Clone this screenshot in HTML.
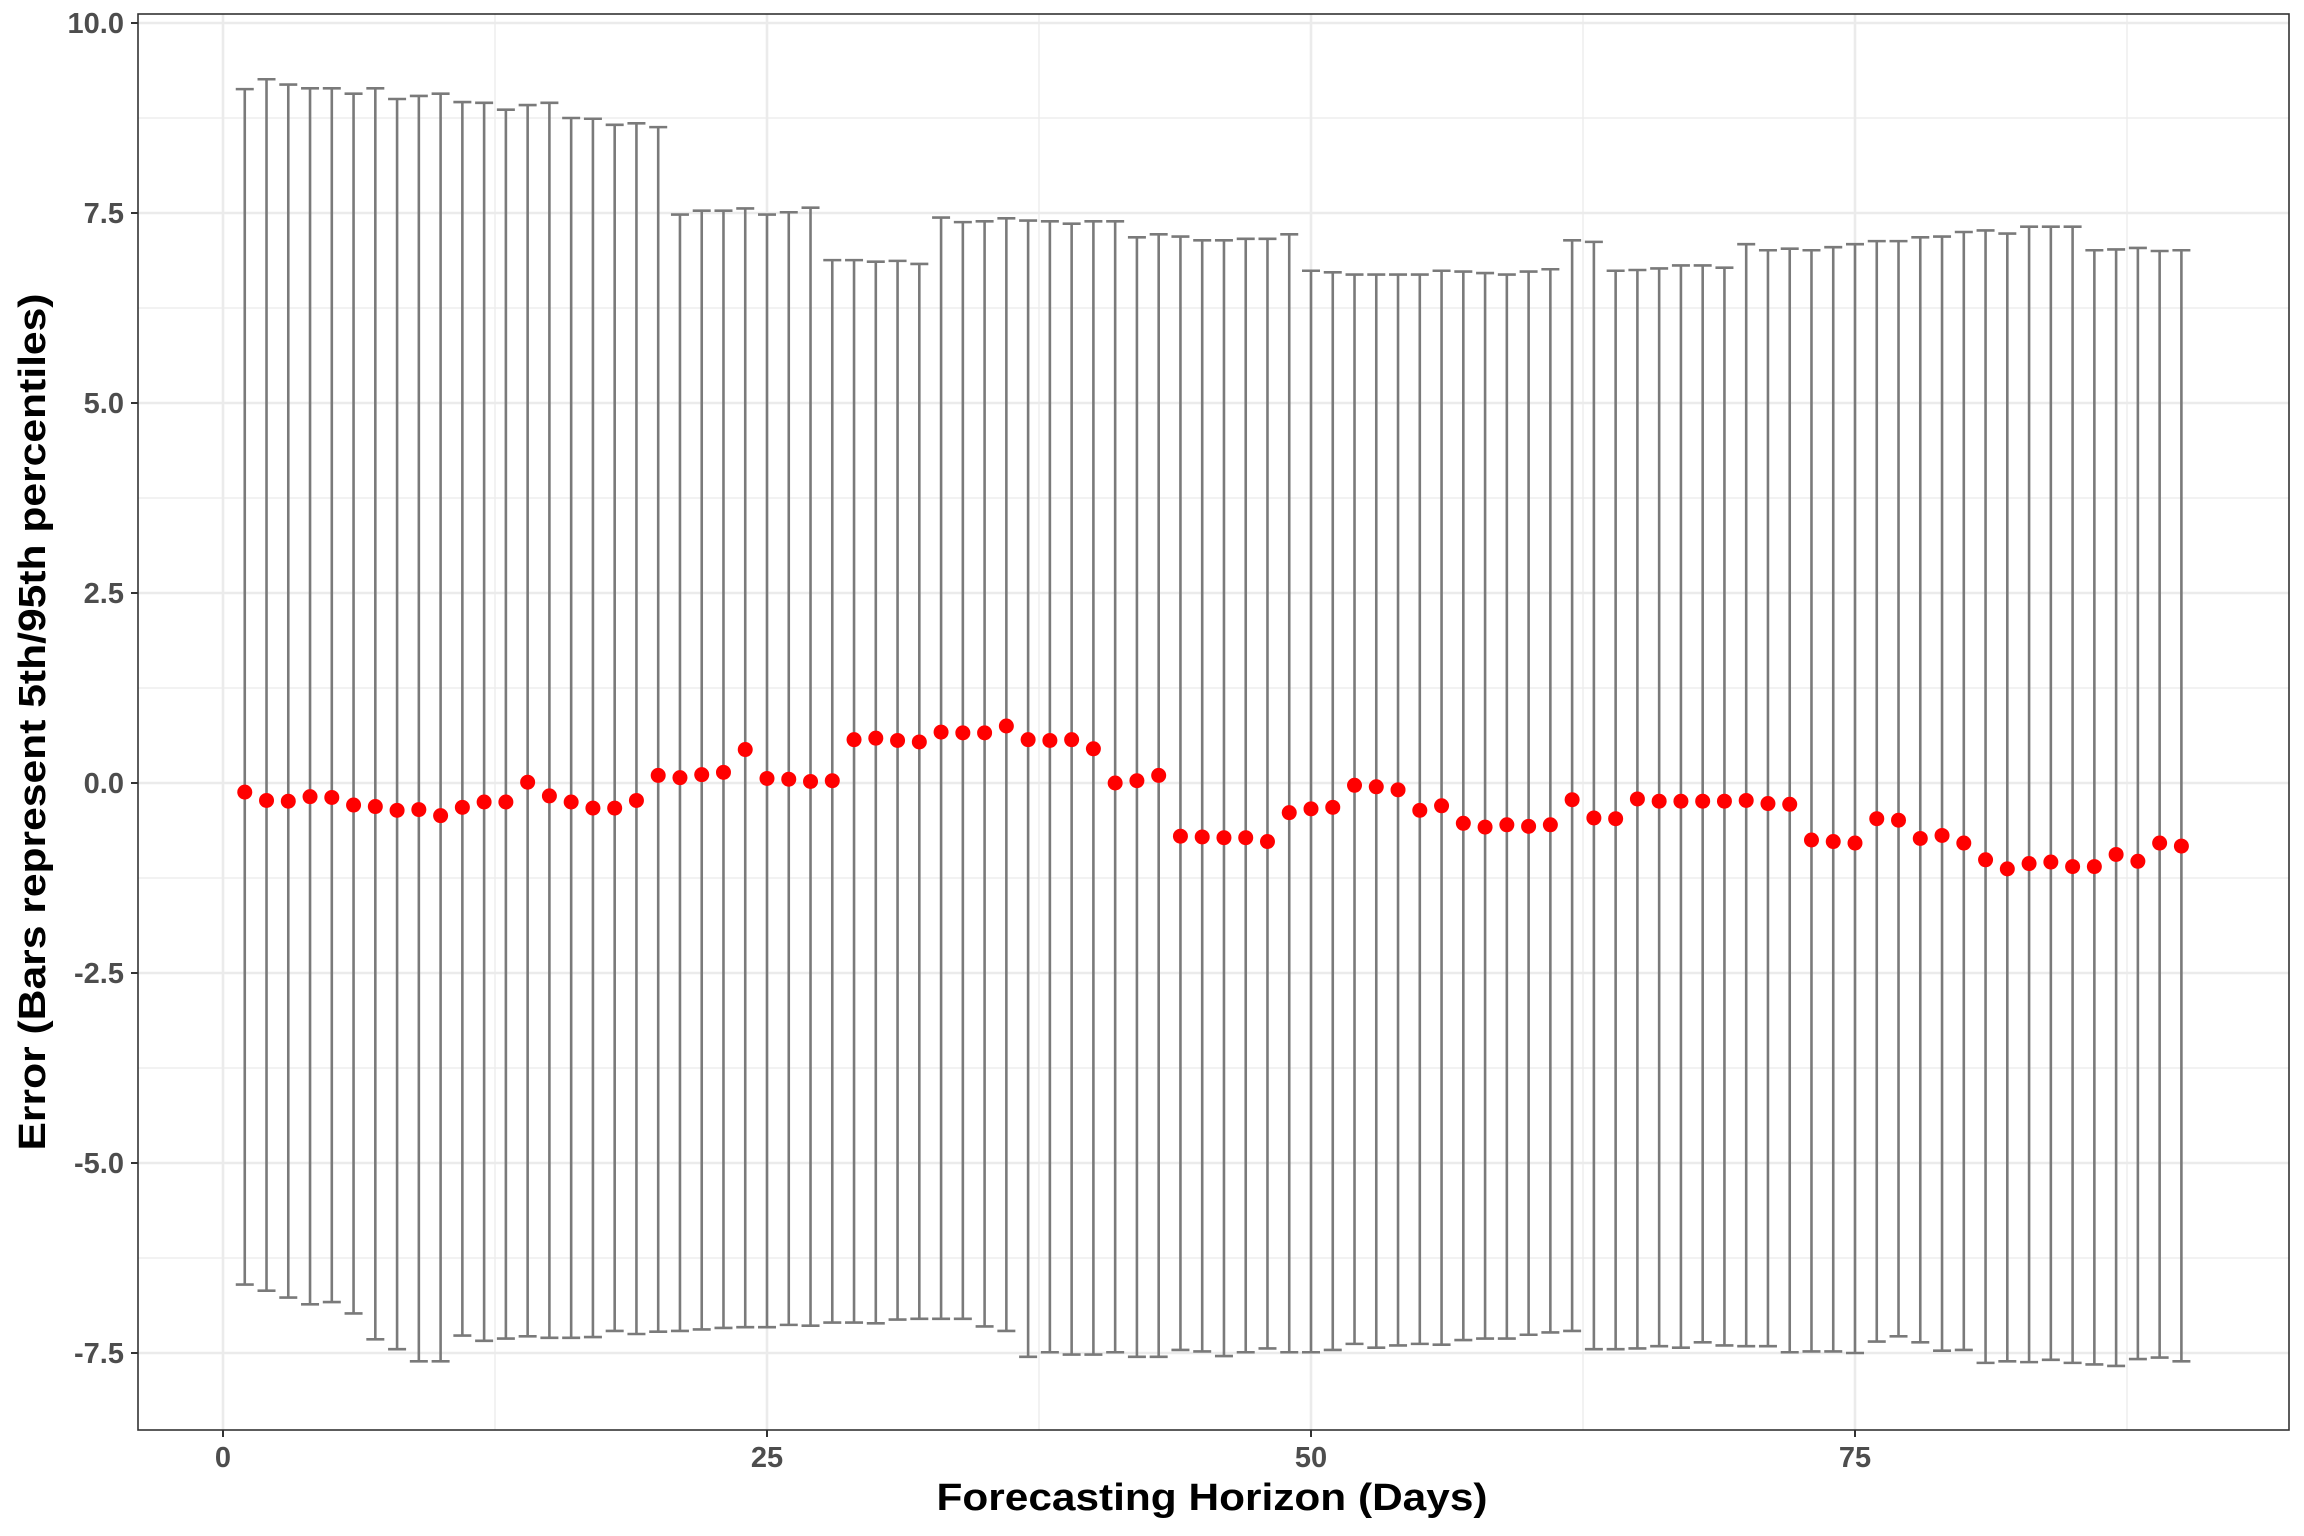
<!DOCTYPE html>
<html><head><meta charset="utf-8"><style>
html,body{margin:0;padding:0;background:#fff;}
svg{display:block;}
</style></head>
<body>
<svg id="chart" width="2304" height="1536" viewBox="0 0 2304 1536" xmlns="http://www.w3.org/2000/svg">
<rect x="0" y="0" width="2304" height="1536" fill="#ffffff"/>
<g id="grid"></g>
<g id="marks"></g>
<rect x="138" y="14" width="2151" height="1416" fill="none" stroke="#333333" stroke-width="1.6"/>
<g id="axes"></g>
<text x="1212" y="1510" text-anchor="middle" font-family="Liberation Sans, sans-serif" font-weight="bold" font-size="38" fill="#000" textLength="551" lengthAdjust="spacingAndGlyphs">Forecasting Horizon (Days)</text>
<text transform="translate(45,722) rotate(-90)" text-anchor="middle" font-family="Liberation Sans, sans-serif" font-weight="bold" font-size="38" fill="#000" textLength="857" lengthAdjust="spacingAndGlyphs">Error (Bars represent 5th/95th percentiles)</text>
</svg>
<script>
const days = Array.from({length:90},(_,i)=>i+1);
const meanErr = [-0.12,-0.23,-0.24,-0.18,-0.19,-0.29,-0.31,-0.36,-0.35,-0.43,
-0.32,-0.25,-0.25,0.01,-0.17,-0.25,-0.33,-0.33,-0.23,0.10,
0.07,0.11,0.14,0.44,0.06,0.05,0.02,0.03,0.57,0.59,
0.56,0.54,0.67,0.66,0.66,0.75,0.57,0.56,0.57,0.45,
0.00,0.03,0.10,-0.70,-0.71,-0.72,-0.72,-0.77,-0.39,-0.34,
-0.32,-0.03,-0.05,-0.09,-0.36,-0.30,-0.53,-0.58,-0.55,-0.57,
-0.55,-0.22,-0.46,-0.47,-0.21,-0.24,-0.24,-0.24,-0.24,-0.23,
-0.27,-0.28,-0.75,-0.77,-0.79,-0.47,-0.49,-0.73,-0.69,-0.79,
-1.01,-1.13,-1.06,-1.04,-1.10,-1.10,-0.94,-1.03,-0.79,-0.83];
const upper95 = [9.13,9.26,9.19,9.14,9.14,9.07,9.14,9.00,9.04,9.07,
8.96,8.95,8.86,8.92,8.95,8.75,8.74,8.66,8.68,8.63,
7.48,7.53,7.53,7.56,7.48,7.51,7.57,6.88,6.88,6.86,
6.87,6.83,7.44,7.38,7.39,7.43,7.40,7.39,7.36,7.39,
7.39,7.18,7.22,7.19,7.14,7.14,7.16,7.16,7.22,6.74,
6.72,6.69,6.69,6.69,6.69,6.74,6.73,6.71,6.69,6.73,
6.76,7.14,7.12,6.74,6.75,6.77,6.81,6.81,6.78,7.09,
7.01,7.03,7.01,7.05,7.09,7.13,7.13,7.18,7.19,7.25,
7.27,7.23,7.32,7.32,7.32,7.01,7.02,7.04,7.00,7.01];
const lower5 = [-6.60,-6.68,-6.77,-6.86,-6.83,-6.98,-7.32,-7.45,-7.61,-7.61,
-7.27,-7.34,-7.31,-7.28,-7.30,-7.30,-7.29,-7.21,-7.25,-7.22,
-7.21,-7.19,-7.17,-7.16,-7.16,-7.13,-7.14,-7.10,-7.10,-7.11,
-7.06,-7.05,-7.05,-7.05,-7.15,-7.21,-7.55,-7.49,-7.52,-7.52,
-7.49,-7.55,-7.55,-7.46,-7.48,-7.54,-7.49,-7.44,-7.49,-7.49,
-7.46,-7.38,-7.43,-7.40,-7.38,-7.39,-7.33,-7.31,-7.31,-7.26,
-7.23,-7.21,-7.45,-7.45,-7.44,-7.41,-7.43,-7.36,-7.40,-7.41,
-7.41,-7.49,-7.48,-7.48,-7.50,-7.35,-7.28,-7.36,-7.47,-7.46,
-7.63,-7.61,-7.62,-7.59,-7.63,-7.65,-7.67,-7.58,-7.56,-7.61];
const xTicks = [0,25,50,75];
const xTickLabels = ["0","25","50","75"];
const xMinor = [12.5,37.5,62.5,87.5];
const yTicks = [10,7.5,5,2.5,0,-2.5,-5,-7.5];
const yTickLabels = ["10.0","7.5","5.0","2.5","0.0","-2.5","-5.0","-7.5"];
const yMinor = [8.75,6.25,3.75,1.25,-1.25,-3.75,-6.25];

const NS="http://www.w3.org/2000/svg";
const PL=138,PR=2289,PT=14,PB=1430;
function xs(v){return 223 + v*21.76;}
function ys(v){return 783 - v*76;}
function mk(tag,attrs,parent){const e=document.createElementNS(NS,tag);for(const k in attrs)e.setAttribute(k,attrs[k]);parent.appendChild(e);return e;}
const grid=document.getElementById('grid'),marks=document.getElementById('marks'),axes=document.getElementById('axes');
yMinor.forEach(v=>{const l=mk('line',{x1:PL,x2:PR,y1:ys(v),y2:ys(v),stroke:'#ebebeb','stroke-width':1.3},grid);

});
xMinor.forEach(v=>{const l=mk('line',{x1:xs(v),x2:xs(v),y1:PT,y2:PB,stroke:'#ebebeb','stroke-width':1.3},grid);

});
yTicks.forEach((v,i)=>{const l=mk('line',{x1:PL,x2:PR,y1:ys(v),y2:ys(v),stroke:'#ebebeb','stroke-width':2.6},grid);


const t=mk('line',{x1:131,x2:PL,y1:ys(v),y2:ys(v),stroke:'#333','stroke-width':2},axes);


const tx=mk('text',{x:124,y:ys(v)+10,'text-anchor':'end','font-family':'Liberation Sans, sans-serif','font-weight':'bold','font-size':29,fill:'#4d4d4d'},axes);
tx.textContent=yTickLabels[i];

});
xTicks.forEach((v,i)=>{const l=mk('line',{x1:xs(v),x2:xs(v),y1:PT,y2:PB,stroke:'#ebebeb','stroke-width':2.6},grid);


const t=mk('line',{x1:xs(v),x2:xs(v),y1:PB,y2:PB+7,stroke:'#333','stroke-width':2},axes);


const tx=mk('text',{x:xs(v),y:1467,'text-anchor':'middle','font-family':'Liberation Sans, sans-serif','font-weight':'bold','font-size':29,fill:'#4d4d4d'},axes);
tx.textContent=xTickLabels[i];

});
days.forEach((d,i)=>{const x=xs(d);const g=mk('g',{},marks);


mk('line',{x1:x,x2:x,y1:ys(upper95[i]),y2:ys(lower5[i]),stroke:'#7a7a7a','stroke-width':2.6},g);
mk('line',{x1:x-9,x2:x+9,y1:ys(upper95[i]),y2:ys(upper95[i]),stroke:'#7a7a7a','stroke-width':2.6},g);
mk('line',{x1:x-9,x2:x+9,y1:ys(lower5[i]),y2:ys(lower5[i]),stroke:'#7a7a7a','stroke-width':2.6},g);});
days.forEach((d,i)=>{const c=mk('circle',{cx:xs(d),cy:ys(meanErr[i]),r:7.5,fill:'#ff0000'},marks);

});
</script>
</body></html>
